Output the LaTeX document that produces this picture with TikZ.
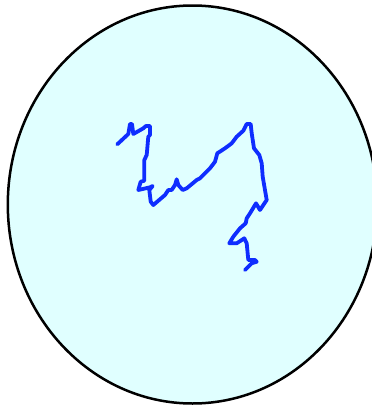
\documentclass[tikz,border=0pt]{standalone}
\begin{document}
\begin{tikzpicture}[x=1pt,y=-1pt,
  disk/.style={draw=black,line width=2.5pt,fill={rgb,255:red,224;green,255;blue,255}},
  walk/.style={draw={rgb,255:red,15;green,45;blue,255},line width=3.8pt,line join=round,line cap=round}]
\useasboundingbox (0,0) rectangle (372,407);
\clip (0,0) rectangle (372,407);
\node[draw=none,inner sep=0pt,minimum size=0pt] (c) at (192.5,204.5) {};
\draw[disk] (c) ellipse[x radius=184.7,y radius=199];
\draw[walk] (117.3,144.3) -- (128.3,134) -- (130,124) -- (132,124) -- (133.3,134) -- (143.3,128.3) -- (146,126) -- (150,126) -- (150,135) -- (148.3,136.7) -- (146.7,155) -- (144.3,160) -- (144.3,180.7) -- (140.7,181.7) -- (138.3,190) -- (150,187.3) -- (152.7,186) -- (149.3,190) -- (150.7,201.7) -- (153.3,205) -- (165,195) -- (168.3,190) -- (171.7,190) -- (175,185) -- (176.7,179.3) -- (178.3,185) -- (182.7,190) -- (186.7,188.3) -- (196.7,180) -- (200,178.3) -- (210,168.3) -- (215,161.7) -- (217.3,153.3) -- (225,148.3) -- (231.7,143.3) -- (236.7,136.7) -- (243.3,130.7) -- (246.7,124) -- (250.7,124) -- (251.7,133.3) -- (254,148.3) -- (259.3,155) -- (261.7,163.3) -- (262.7,176.7) -- (266.7,200) -- (260,210) -- (256,203.3) -- (250,213.3) -- (246.7,218.3) -- (245.7,223.3) -- (240,228.3) -- (233.3,236.7) -- (229.3,243.3) -- (236.7,243.3) -- (244.3,238.3) -- (246.7,243.3) -- (248.3,260) -- (255,260) -- (256.7,261.7) -- (251.7,263.3) -- (245,270);
\end{tikzpicture}
\end{document}
